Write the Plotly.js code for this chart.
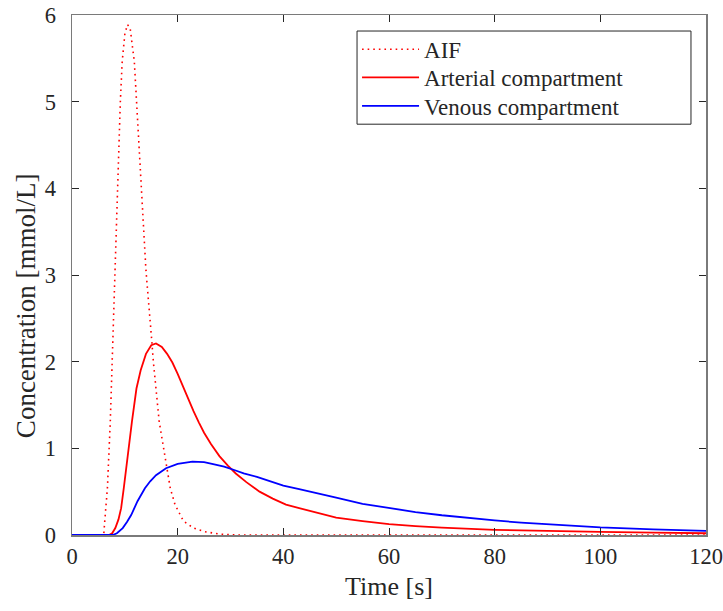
<!DOCTYPE html>
<html>
<head>
<meta charset="utf-8">
<script src="https://cdn.plot.ly/plotly-3.0.1.min.js"></script>
<style>html,body{margin:0;padding:0;background:#fff;}#chart{width:723px;height:611px;}</style>
</head>
<body>
<div id="chart"></div>
<script>
// Time samples (s) and concentrations (mmol/L)
const aifTime = [0, 6, 6.2, 6.7, 7.25, 7.6, 8.2, 8.6, 9.15, 9.5, 10, 10.5, 11, 11.8, 12.2, 13.2, 14, 15.1, 15.4, 16.5, 17.3, 18.6, 19.5, 21.1, 23, 25, 28, 31, 120];
const aifConc = [0, 0, 0.16, 0.54, 1.31, 2.0, 3.05, 4.0, 5.0, 5.46, 5.78, 5.89, 5.85, 5.46, 5.0, 4.0, 3.05, 2.24, 2.0, 1.31, 1.0, 0.54, 0.35, 0.16, 0.08, 0.04, 0.01, 0, 0];

const artTime = [0, 7, 7.6, 8.2, 8.8, 9.3, 9.8, 10.5, 11.35, 12.2, 13, 14, 15, 15.9, 17, 18, 19, 20, 21, 22, 23, 24, 25, 26.3, 27.9, 29.5, 31, 33, 35.5, 38, 40.5, 43, 45, 47.5, 50, 55, 60, 65, 70, 80, 90, 100, 110, 120];
const artConc = [0, 0, 0.02, 0.08, 0.18, 0.31, 0.54, 0.92, 1.31, 1.69, 1.9, 2.09, 2.19, 2.21, 2.17, 2.09, 1.99, 1.86, 1.71, 1.57, 1.43, 1.30, 1.18, 1.05, 0.91, 0.80, 0.71, 0.61, 0.50, 0.42, 0.35, 0.31, 0.28, 0.24, 0.2, 0.16, 0.125, 0.103, 0.085, 0.06, 0.045, 0.035, 0.027, 0.02];

const venTime = [0, 7.7, 8.5, 9.6, 10.4, 11.2, 12.4, 13.8, 14.8, 15.9, 17.8, 20, 22.8, 25, 26.5, 28.8, 30.7, 32.5, 35, 38, 40, 43, 46, 50, 55, 60, 65, 70, 75, 80, 85, 90, 95, 100, 110, 120];
const venConc = [0, 0, 0.02, 0.08, 0.15, 0.23, 0.39, 0.54, 0.62, 0.69, 0.77, 0.82, 0.846, 0.84, 0.82, 0.79, 0.75, 0.71, 0.67, 0.61, 0.57, 0.53, 0.49, 0.43, 0.36, 0.31, 0.265, 0.228, 0.195, 0.168, 0.143, 0.122, 0.103, 0.087, 0.064, 0.047];

const seriesNames = ['AIF', 'Arterial compartment', 'Venous compartment'];
const xTicks = [0, 20, 40, 60, 80, 100, 120];
const yTicks = [0, 1, 2, 3, 4, 5, 6];
const xTitle = 'Time [s]';
const yTitle = 'Concentration [mmol/L]';

const FONT = '"Liberation Serif", "Times New Roman", serif';
const TXT = '#262626';

const traces = [
  {x: aifTime, y: aifConc, name: seriesNames[0], legend: 'legend', mode: 'lines', line: {color: '#ff0000', width: 1.6, dash: '1.6px,4px'}},
  {x: artTime, y: artConc, name: seriesNames[1], legend: 'legend2', mode: 'lines', line: {color: '#ff0000', width: 1.8}},
  {x: venTime, y: venConc, name: seriesNames[2], legend: 'legend3', mode: 'lines', line: {color: '#0000ff', width: 1.8}}
];

const axisCommon = {
  showgrid: false, zeroline: false, showline: true, mirror: 'ticks',
  linecolor: '#7a7a7a', linewidth: 1.5, ticks: 'inside', ticklen: 7, tickcolor: TXT, tickwidth: 1,
  tickfont: {family: FONT, size: 22.5, color: TXT}, ticklabeloverflow: 'allow'
};

function legendAt(y) {
  return {
    x: 0.4496, y: y, xanchor: 'left', yanchor: 'middle',
    bgcolor: 'rgba(0,0,0,0)', borderwidth: 0, itemwidth: 57,
    font: {family: FONT, size: 23, color: TXT}
  };
}

const layout = {
  width: 723, height: 611,
  margin: {l: 72, r: 17, t: 15, b: 76},
  paper_bgcolor: '#fff', plot_bgcolor: '#fff',
  font: {family: FONT, color: TXT},
  showlegend: true,
  xaxis: Object.assign({}, axisCommon, {
    range: [0, 120], tickvals: xTicks, ticktext: xTicks.map(String),
    title: {text: xTitle, font: {family: FONT, size: 26, color: TXT}, standoff: 9}
  }),
  yaxis: Object.assign({}, axisCommon, {
    range: [0, 6], tickvals: yTicks, ticktext: yTicks.map(String), ticklabelstandoff: 10
  }),
  legend: legendAt(0.934),
  legend2: legendAt(0.880),
  legend3: legendAt(0.825),
  shapes: [
    {type: 'rect', xref: 'paper', yref: 'paper', x0: 0.4496, x1: 0.9763, y0: 0.790, y1: 0.9692,
     line: {color: TXT, width: 1}, fillcolor: 'rgba(255,255,255,0)', layer: 'below'}
  ],
  annotations: [
    {text: yTitle, xref: 'paper', yref: 'paper', x: -0.0726, y: 0.442, xanchor: 'center', yanchor: 'middle',
     textangle: -90, showarrow: false, font: {family: FONT, size: 27, color: TXT}}
  ]
};

Plotly.newPlot('chart', traces, layout, {displayModeBar: false, staticPlot: true});
</script>
</body>
</html>
